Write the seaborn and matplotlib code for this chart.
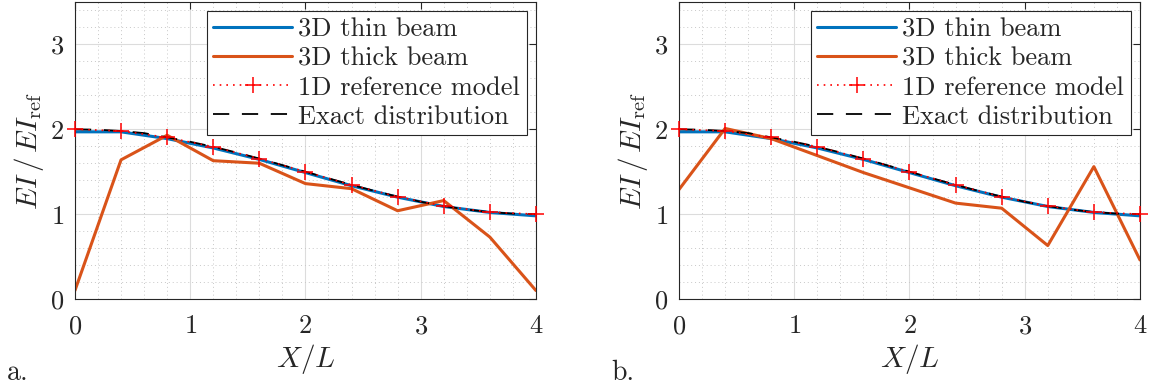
import numpy as np
import pandas as pd
import matplotlib
matplotlib.use("Agg")
import matplotlib.pyplot as plt
from matplotlib.ticker import MultipleLocator
import seaborn as sns

# sample positions along the beam
x_nodes = [0.0, 0.4, 0.8, 1.2, 1.6, 2.0, 2.4, 2.8, 3.2, 3.6, 4.0]
x_fine = [0.0, 0.2, 0.4, 0.6, 0.8, 1.0, 1.2, 1.4, 1.6, 1.8, 2.0,
          2.2, 2.4, 2.6, 2.8, 3.0, 3.2, 3.4, 3.6, 3.8, 4.0]

# exact stiffness distribution
exact = [2.0, 1.995, 1.98, 1.955, 1.905, 1.853, 1.794, 1.727, 1.655, 1.578, 1.5,
         1.422, 1.345, 1.273, 1.206, 1.146, 1.095, 1.054, 1.024, 1.006, 1.0]
# 3D thin beam (same in both panels)
thin = [1.97, 1.97, 1.89, 1.78, 1.645, 1.49, 1.335, 1.2, 1.09, 1.02, 0.98]
# 1D reference model
ref_1d = [2.0, 1.98, 1.905, 1.794, 1.655, 1.5, 1.345, 1.206, 1.095, 1.024, 1.0]
# 3D thick beam, panel a and panel b
thick_a = [0.10, 1.64, 1.93, 1.63, 1.60, 1.36, 1.30, 1.04, 1.16, 0.73, 0.10]
thick_b = [1.29, 2.01, 1.89, 1.69, 1.49, 1.31, 1.13, 1.07, 0.63, 1.56, 0.46]

panel_tags = ["a.", "b."]

sns.set_style("white")
plt.rcParams["font.family"] = ["cmr10", "DejaVu Serif"]
plt.rcParams["mathtext.fontset"] = "cm"
plt.rcParams["axes.formatter.use_mathtext"] = True

fig = plt.figure(figsize=(11.53, 3.87), dpi=100)
ax_pos = [[0.0650, 0.2274, 0.3998, 0.7674], [0.5889, 0.2274, 0.3998, 0.7674]]
tag_x = [0.006, 0.530]

df_fine = pd.DataFrame({"x": x_fine, "exact": exact})

for i, thick in enumerate([thick_a, thick_b]):
    ax = fig.add_axes(ax_pos[i])
    df = pd.DataFrame({"x": x_nodes, "thin": thin, "thick": thick, "ref": ref_1d})

    sns.lineplot(data=df, x="x", y="thin", ax=ax, color="#0072BD", lw=2.2,
                 label="3D thin beam")
    sns.lineplot(data=df, x="x", y="thick", ax=ax, color="#D95319", lw=2.2,
                 label="3D thick beam")
    sns.lineplot(data=df, x="x", y="ref", ax=ax, color="red", lw=1.2,
                 linestyle=(0, (1, 3)), marker="+", markersize=12, mew=1.1,
                 mec="red", clip_on=False, zorder=5, label="1D reference model")
    sns.lineplot(data=df_fine, x="x", y="exact", ax=ax, color="black", lw=1.3,
                 linestyle=(0, (9, 7)), label="Exact distribution")

    ax.set_xlim(0, 4)
    ax.set_ylim(0, 3.5)
    ax.xaxis.set_major_locator(MultipleLocator(1))
    ax.yaxis.set_major_locator(MultipleLocator(1))
    ax.xaxis.set_minor_locator(MultipleLocator(0.2))
    ax.yaxis.set_minor_locator(MultipleLocator(0.2))
    ax.grid(which="major", color="#dcdcdc", lw=0.8)
    ax.grid(which="minor", color="#c8c8c8", lw=0.7, linestyle=(0, (1, 3)))
    ax.set_axisbelow(True)
    ax.tick_params(which="major", direction="in", length=5, top=True, right=True,
                   labelsize=19, color="#262626")
    ax.tick_params(axis="x", which="major", pad=11)
    ax.tick_params(axis="y", which="major", pad=8)
    ax.tick_params(which="minor", length=0)
    for sp in ax.spines.values():
        sp.set_color("#262626")
        sp.set_linewidth(0.8)

    ax.set_xlabel(r"$X/L$", fontsize=21, labelpad=3)
    ax.set_ylabel(r"$EI\,/\,EI_{\mathrm{ref}}$", fontsize=21, labelpad=3)

    leg = ax.legend(loc="upper right", fontsize=19, handlelength=3.0,
                    handletextpad=0.22, labelspacing=0.2, borderpad=0.25,
                    fancybox=False, framealpha=1, edgecolor="#262626",
                    borderaxespad=0.35)
    leg.get_frame().set_linewidth(0.8)
    leg.set_zorder(6)

    fig.text(tag_x[i], 0.018, panel_tags[i], fontsize=20)

fig.savefig("out.png", dpi=100)
